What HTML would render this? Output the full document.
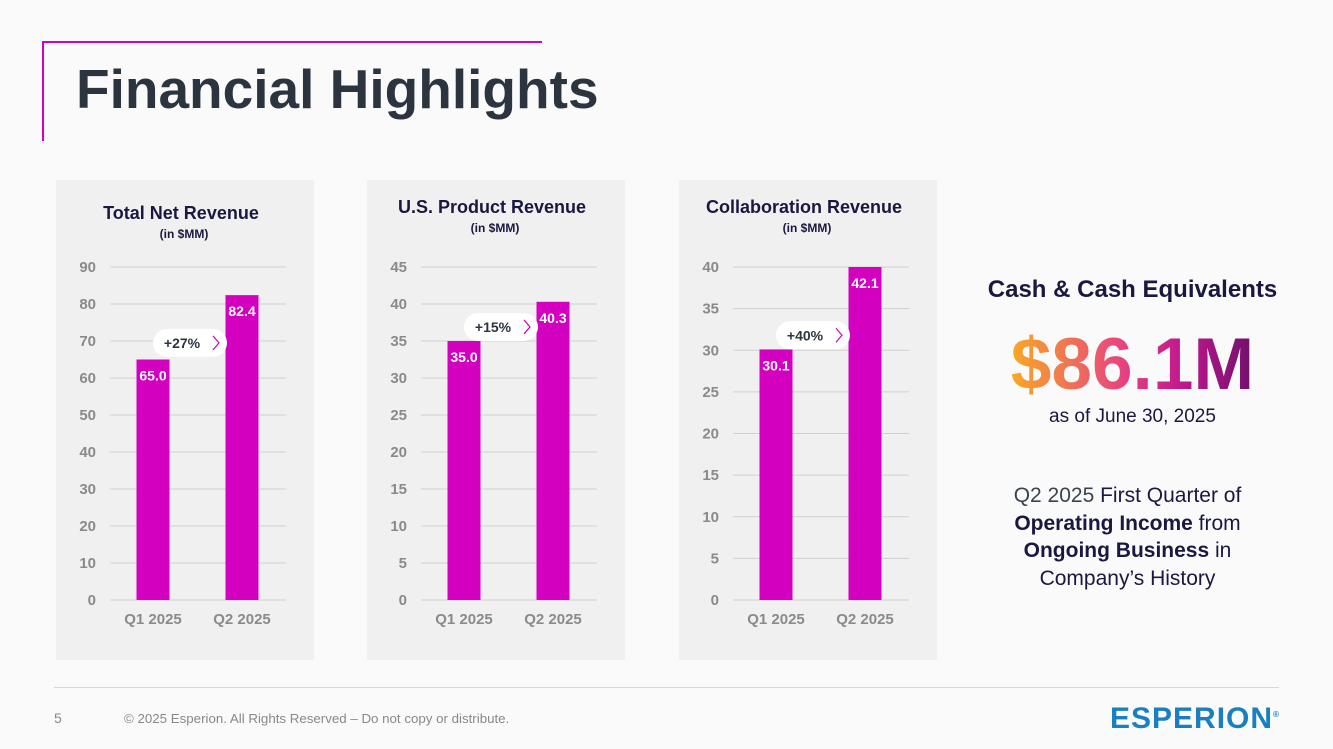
<!DOCTYPE html>
<html><head><meta charset="utf-8">
<style>
body{margin:0;width:1333px;height:749px;background:#fafafa;font-family:"Liberation Sans",sans-serif;position:relative;overflow:hidden}
.abs{position:absolute}
</style></head>
<body>
<div class="abs" style="left:42px;top:41px;width:500px;height:2px;background:#d400c0"></div>
<div class="abs" style="left:42px;top:41px;width:2px;height:100px;background:#d400c0"></div>
<div class="abs" style="left:76px;top:57px;font-size:55px;font-weight:bold;color:#2c3440">Financial Highlights</div>

<svg class="abs" style="left:0;top:0" width="1333" height="749" id="charts"></svg>

<div class="abs" style="left:960px;top:276px;width:345px;text-align:center;font-size:24px;font-weight:bold;color:#1a1840">Cash &amp; Cash Equivalents</div>
<div class="abs" style="left:960px;top:322px;width:345px;text-align:center;font-size:73px;font-weight:bold;line-height:86px;"><span style="background:linear-gradient(90deg,#f9a825,#e8457e 45%,#c2188f 70%,#70106c);-webkit-background-clip:text;background-clip:text;color:transparent">$86.1M</span></div>
<div class="abs" style="left:960px;top:406px;width:345px;text-align:center;font-size:19px;color:#1a1840">as of June 30, 2025</div>
<div class="abs" style="left:960px;top:482px;width:335px;text-align:center;font-size:21px;line-height:27.5px;color:#1a1840"><span style="color:#3a4450">Q2 2025</span> First Quarter of<br><b>Operating Income</b> from<br><b>Ongoing Business</b> in<br>Company’s History</div>

<div class="abs" style="left:54px;top:687px;width:1225px;height:1px;background:#d8d8d8"></div>
<div class="abs" style="left:54px;top:710px;font-size:14px;color:#888">5</div>
<div class="abs" style="left:124px;top:711px;font-size:13.3px;color:#888">© 2025 Esperion. All Rights Reserved – Do not copy or distribute.</div>
<div class="abs" style="left:1110px;top:702px;font-size:30px;font-weight:bold;color:#1a7fc1;letter-spacing:1px">ESPERION<sup style="font-size:8px">®</sup></div>

<script>
const titles=["Total Net Revenue","U.S. Product Revenue","Collaboration Revenue"];
const categories=["Q1 2025","Q2 2025"];
const q1Values=[65.0,35.0,30.1];
const q2Values=[82.4,40.3,42.1];
const axisMax=[90,45,40];
const tickStep=[10,5,5];
const growthLabels=["+27%","+15%","+40%"];
const growthPillAt=[69.5,36.9,31.8];

const NS="http://www.w3.org/2000/svg";
const svg=document.getElementById('charts');
function el(t,a,p){const e=document.createElementNS(NS,t);for(const k in a)e.setAttribute(k,a[k]);(p||svg).appendChild(e);return e;}
const panelX=[56,367,679], titleY=[213,207,207];
const y0=600,yTop=267;
for(let c=0;c<3;c++){
  const px=panelX[c];
  const g=el('g',{});
  
  
  const bg=el('rect',{x:px,y:180,width:258,height:480,fill:'#f0f0f0'},g);
  
  
  const t=el('text',{x:px+125,y:titleY[c]+6,'text-anchor':'middle','font-size':18,'font-weight':'bold',fill:'#1a1840'},g);t.textContent=titles[c];
  
  
  const st=el('text',{x:px+128,y:titleY[c]+25,'text-anchor':'middle','font-size':12,'font-weight':'bold',fill:'#1a1840'},g);st.textContent='(in $MM)';
  
  
  const yS=v=>y0-(Math.min(v,axisMax[c])/axisMax[c])*(y0-yTop);
  const xS=i=>px+97+i*89;
  for(let v=0;v<=axisMax[c];v+=tickStep[c]){
    const gl=el('line',{x1:px+54,x2:px+230,y1:yS(v),y2:yS(v),stroke:'#cfcfcf','stroke-width':1},g);
    
    
    const tl=el('text',{x:px+40,y:yS(v)+5,'text-anchor':'end','font-size':15,'font-weight':'bold',fill:'#8a8a8a'},g);tl.textContent=v;
    
    
  }
  const vals=[q1Values[c],q2Values[c]];
  vals.forEach((v,i)=>{
    const b=el('rect',{x:xS(i)-16.5,y:yS(v),width:33,height:y0-yS(v),fill:'#d400c0'},g);
    
    
    const vl=el('text',{x:xS(i),y:yS(v)+21,'text-anchor':'middle','font-size':14,'font-weight':'bold',fill:'#fff'},g);vl.textContent=v.toFixed(1);
    
    
    const xl=el('text',{x:xS(i),y:624,'text-anchor':'middle','font-size':15,'font-weight':'bold',fill:'#8a8a8a'},g);xl.textContent=categories[i];
    
    
  });
  const py=yS(growthPillAt[c]), pcx=xS(0)+37;
  const pill=el('rect',{x:pcx-37,y:py-14,width:74,height:28,rx:14,fill:'#fff'},g);
  
  
  const gt=el('text',{x:pcx-8,y:py+5,'text-anchor':'middle','font-size':14,'font-weight':'bold',fill:'#2c3440'},g);gt.textContent=growthLabels[c];
  
  
  const ch=el('polyline',{points:`${pcx+23},${py-7} ${pcx+29},${py} ${pcx+23},${py+7}`,fill:'none',stroke:'#d400c0','stroke-width':1.2},g);
  
  
}
</script>
</body></html>
